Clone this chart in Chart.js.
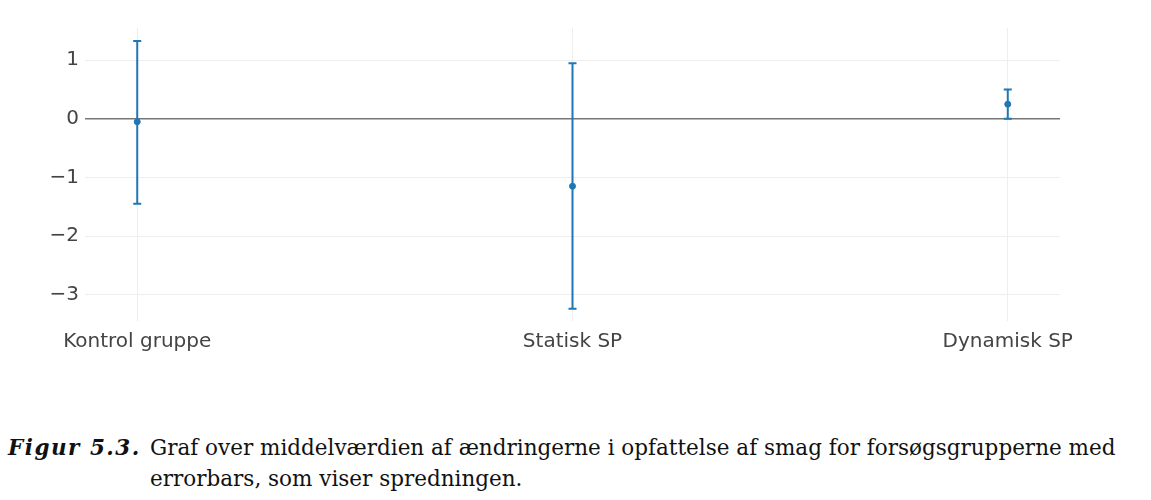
<!DOCTYPE html>
<html>
<head>
<meta charset="utf-8">
<script src="https://cdn.jsdelivr.net/npm/chart.js@4/dist/chart.umd.min.js"></script>
<style>
    body { margin: 0; background: #fff; width: 1151px; height: 500px; overflow: hidden; }
    #wrap { position: absolute; left: 0; top: 0; width: 1151px; height: 370px; }
    .caption { position: absolute; left: 8px; top: 432px; width: 1140px; font-family: 'DejaVu Serif', serif; font-size: 21.5px; color: #111; line-height: 31px; }
    .caption b { font-style: italic; letter-spacing: 1.5px; }
    .caption .rest { position: absolute; left: 142px; top: 0; white-space: nowrap; }
</style>
</head>
<body>
<div id="wrap"><canvas id="c"></canvas></div>
<div class="caption"><b>Figur 5.3.</b><span class="rest">Graf over middelværdien af ændringerne i opfattelse af smag for forsøgsgrupperne med<br>errorbars, som viser spredningen.</span></div>
<script>
const categories = ['Kontrol gruppe', 'Statisk SP', 'Dynamisk SP']
const means = [-0.05, -1.15, 0.25]
const upper = [1.33, 0.95, 0.5]
const lower = [-1.45, -3.24, 0.0]
const yTicks = [-3, -2, -1, 0, 1]

const blue = '#1f77b4'

const errorBars = {
    id: 'errorBars',
    afterDatasetsDraw(chart) {
        const ctx = chart.ctx
        const xs = chart.scales.x
        const ys = chart.scales.y
        ctx.save()
        ctx.strokeStyle = blue
        ctx.lineWidth = 2
        categories.forEach((c, i) => {
            const x = xs.getPixelForValue(i)
            const t = ys.getPixelForValue(upper[i])
            const b = ys.getPixelForValue(lower[i])
            ctx.beginPath()
            ctx.moveTo(x, t); ctx.lineTo(x, b)
            ctx.moveTo(x - 4, t); ctx.lineTo(x + 4, t)
            ctx.moveTo(x - 4, b); ctx.lineTo(x + 4, b)
            ctx.stroke()
        })
        ctx.restore()
    }
}

new Chart(document.getElementById('c'), {
    type: 'scatter',
    data: {
        datasets: [{
            data: means.map((m, i) => ({ x: i, y: m })),
            backgroundColor: blue,
            borderColor: blue,
            pointRadius: 3,
        }],
    },
    options: {
        responsive: true,
        maintainAspectRatio: false,
        animation: false,
        layout: { padding: { top: 28, right: 91, left: 0, bottom: 0 } },
        plugins: { legend: { display: false }, tooltip: { enabled: false } },
        scales: {
            x: {
                type: 'linear',
                min: -0.12,
                max: 2.12,
                afterBuildTicks: axis => { axis.ticks = categories.map((c, i) => ({ value: i })) },
                ticks: {
                    callback: v => categories[v],
                    font: { family: 'DejaVu Sans', size: 20 },
                    color: '#444',
                    padding: 9,
                    maxRotation: 0,
                },
                grid: { color: '#eeeeee', drawTicks: false },
                border: { display: false },
                afterFit: axis => { axis.height = 49 },
            },
            y: {
                min: -3.45,
                max: 1.55,
                afterBuildTicks: axis => { axis.ticks = yTicks.map(v => ({ value: v })) },
                ticks: {
                    callback: v => (v < 0 ? '\u2212' + Math.abs(v) : String(v)),
                    font: { family: 'DejaVu Sans', size: 20 },
                    color: '#444',
                    padding: 6,
                },
                grid: {
                    color: ctx => (ctx.tick && ctx.tick.value === 0 ? '#777' : '#eeeeee'),
                    lineWidth: ctx => (ctx.tick && ctx.tick.value === 0 ? 1.5 : 1),
                    drawTicks: false,
                },
                border: { display: false },
                afterFit: axis => { axis.width = 85 },
            },
        },
    },
    plugins: [errorBars],
})
</script>
</body>
</html>
